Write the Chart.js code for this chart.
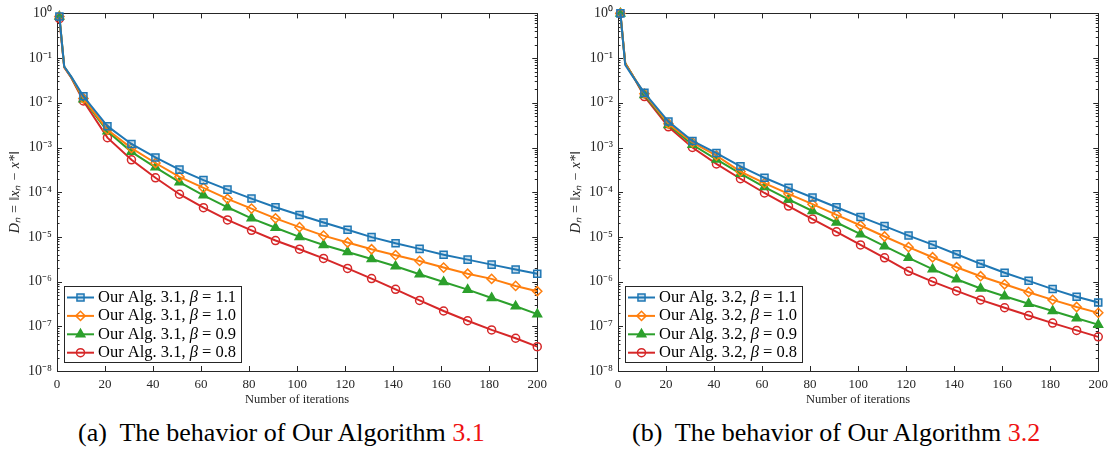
<!DOCTYPE html>
<html><head><meta charset="utf-8">
<script src="https://cdn.jsdelivr.net/npm/chart.js@4.4.1/dist/chart.umd.min.js"></script>
<style>
html,body{margin:0;padding:0;background:#fff;width:1114px;height:453px;overflow:hidden;}
.wrap{position:absolute;top:0;height:410px;}
.cap{position:absolute;top:418px;font-family:"Liberation Serif","Times New Roman",serif;font-size:26px;color:#000;white-space:nowrap;line-height:30px;}
.cap .r{color:#ee1111;}
</style></head><body>
<div class="wrap" style="left:0;width:553px"><canvas id="c1" width="553" height="410"></canvas></div>
<div class="wrap" style="left:561px;width:553px"><canvas id="c2" width="553" height="410"></canvas></div>
<div class="cap" style="left:78px">(a)&nbsp; The behavior of Our Algorithm <span class="r">3.1</span></div>
<div class="cap" style="left:632px">(b)&nbsp; The behavior of Our Algorithm <span class="r">3.2</span></div>
<script>
// ---------------- data ----------------
const iterations = [1,3,6,11,21,31,41,51,61,71,81,91,101,111,121,131,141,151,161,171,181,191,200];
const xTickValues = [0,20,40,60,80,100,120,140,160,180,200];
const yExponents = [-8,-7,-6,-5,-4,-3,-2,-1,0];
const betaValues = ['1.1','1.0','0.9','0.8'];
const xTitle = 'Number of iterations';
const yTitle = 'D\u2099 = \u2016x\u2099 \u2212 x*\u2016';

// Our Algorithm 3.1
const alg31_b11 = [0.85,0.065,0.038,1.4e-2,3.0e-3,1.2e-3,6.0e-4,3.2e-4,1.86e-4,1.14e-4,7.2e-5,4.6e-5,3.1e-5,2.1e-5,1.45e-5,9.9e-6,7.2e-6,5.4e-6,4.0e-6,3.1e-6,2.4e-6,1.86e-6,1.5e-6];
const alg31_b10 = [0.85,0.064,0.037,1.25e-2,2.5e-3,9.7e-4,4.5e-4,2.2e-4,1.25e-4,7.1e-5,4.3e-5,2.6e-5,1.65e-5,1.07e-5,7.5e-6,5.3e-6,3.9e-6,2.9e-6,2.06e-6,1.5e-6,1.15e-6,8.0e-7,6.1e-7];
const alg31_b09 = [0.85,0.064,0.037,1.2e-2,2.3e-3,8.0e-4,3.6e-4,1.68e-4,8.5e-5,4.6e-5,2.6e-5,1.6e-5,1.0e-5,6.6e-6,4.6e-6,3.2e-6,2.2e-6,1.46e-6,9.8e-7,6.6e-7,4.3e-7,2.8e-7,1.87e-7];
const alg31_b08 = [0.76,0.062,0.036,1.1e-2,1.66e-3,5.3e-4,2.1e-4,9.0e-5,4.5e-5,2.4e-5,1.4e-5,8.3e-6,5.3e-6,3.3e-6,1.97e-6,1.17e-6,6.7e-7,3.8e-7,2.2e-7,1.33e-7,8.3e-8,5.4e-8,3.5e-8];

// Our Algorithm 3.2
const alg32_b11 = [1.0,0.07,0.04,1.67e-2,3.8e-3,1.4e-3,7.5e-4,3.8e-4,2.1e-4,1.25e-4,7.6e-5,4.6e-5,2.8e-5,1.74e-5,1.07e-5,6.7e-6,4.1e-6,2.5e-6,1.58e-6,1.04e-6,6.8e-7,4.6e-7,3.4e-7];
const alg32_b10 = [1.0,0.075,0.042,1.6e-2,3.4e-3,1.3e-3,6.6e-4,2.9e-4,1.6e-4,9.2e-5,5.4e-5,3.1e-5,1.8e-5,1.02e-5,5.9e-6,3.5e-6,2.1e-6,1.32e-6,8.7e-7,5.8e-7,3.9e-7,2.7e-7,2.0e-7];
const alg32_b09 = [1.0,0.077,0.042,1.5e-2,3.2e-3,1.15e-3,5.4e-4,2.6e-4,1.3e-4,6.9e-5,3.8e-5,2.1e-5,1.15e-5,6.2e-6,3.4e-6,1.9e-6,1.13e-6,7.0e-7,4.7e-7,3.2e-7,2.2e-7,1.52e-7,1.09e-7];
const alg32_b08 = [1.0,0.078,0.042,1.38e-2,2.9e-3,1.0e-3,4.3e-4,2.0e-4,9.6e-5,4.9e-5,2.5e-5,1.3e-5,6.6e-6,3.4e-6,1.7e-6,1.0e-6,6.2e-7,3.9e-7,2.6e-7,1.74e-7,1.18e-7,8.1e-8,5.8e-8];

// ---------------- styles ----------------
const SERIF = '"Liberation Serif","Times New Roman",serif';
const AXIS = '#262626';
const seriesStyle = [
  {color:'#1f77b4', fill:'rgba(31,119,180,0.25)', style:'rect', r:5},
  {color:'#ff7f0e', fill:'rgba(255,255,255,0)', style:'rectRot', r:4.6},
  {color:'#2ca02c', fill:'#2ca02c', style:'triangle', r:5},
  {color:'#d62728', fill:'rgba(255,255,255,0)', style:'circle', r:4}
];
const SUP = {'0':'\u2070','1':'\u00b9','2':'\u00b2','3':'\u00b3','4':'\u2074','5':'\u2075','6':'\u2076','7':'\u2077','8':'\u2078','9':'\u2079','-':'\u207b'};
const sup = n => String(n).split('').map(c => SUP[c]).join('');
const isPow10 = v => { const e = Math.log10(v); return Math.abs(e - Math.round(e)) < 1e-6; };

const framePlugin = {
  id: 'frame',
  beforeDatasetsDraw(chart) {
    const {ctx, chartArea: a, scales: {x, y}} = chart;
    ctx.save();
    ctx.strokeStyle = AXIS; ctx.lineWidth = 1;
    ctx.beginPath();
    x.ticks.forEach(t => {
      const px = Math.round(x.getPixelForValue(t.value)) + 0.5;
      ctx.moveTo(px, a.bottom); ctx.lineTo(px, a.bottom - 5);
      ctx.moveTo(px, a.top); ctx.lineTo(px, a.top + 5);
    });
    y.ticks.forEach(t => {
      const len = isPow10(t.value) ? 5 : 2.5;
      const py = Math.round(y.getPixelForValue(t.value)) + 0.5;
      ctx.moveTo(a.left, py); ctx.lineTo(a.left + len, py);
      ctx.moveTo(a.right, py); ctx.lineTo(a.right - len, py);
    });
    ctx.stroke();
    ctx.strokeRect(Math.round(a.left) + 0.5, Math.round(a.top) + 0.5, Math.round(a.right - a.left), Math.round(a.bottom - a.top));
    ctx.restore();
  }
};

function drawMarker(ctx, s, x, y) {
  ctx.save();
  ctx.strokeStyle = s.color; ctx.fillStyle = s.fill; ctx.lineWidth = 1.5;
  if (Chart.helpers && Chart.helpers.drawPoint) {
    Chart.helpers.drawPoint(ctx, {pointStyle: s.style, rotation: 0, radius: s.r, borderWidth: 1.5}, x, y);
  } else {
    ctx.beginPath(); ctx.arc(x, y, s.r, 0, Math.PI * 2); ctx.fill(); ctx.stroke();
  }
  ctx.restore();
}

const legendPlugin = {
  id: 'boxLegend',
  afterDraw(chart, args, opts) {
    const {ctx, chartArea: a} = chart;
    const x0 = Math.round(a.left) + 7, y0 = Math.round(a.bottom) - 85, w = 177, h = 76;
    ctx.save();
    ctx.fillStyle = '#fff'; ctx.fillRect(x0, y0, w, h);
    ctx.strokeStyle = AXIS; ctx.lineWidth = 1; ctx.strokeRect(x0 + 0.5, y0 + 0.5, w, h);
    const F = 16.5;
    betaValues.forEach((b, i) => {
      const s = seriesStyle[i];
      const cy = y0 + 11.5 + i * 18.4;
      ctx.strokeStyle = s.color; ctx.lineWidth = 2;
      ctx.beginPath(); ctx.moveTo(x0 + 3, cy); ctx.lineTo(x0 + 30, cy); ctx.stroke();
      drawMarker(ctx, s, x0 + 16.5, cy);
      let tx = x0 + 34;
      ctx.fillStyle = '#000'; ctx.textBaseline = 'middle'; ctx.textAlign = 'left';
      ctx.font = F + 'px ' + SERIF;
      const p1 = 'Our Alg. ' + opts.alg + ', ';
      ctx.fillText(p1, tx, cy); tx += ctx.measureText(p1).width;
      ctx.font = 'italic ' + F + 'px ' + SERIF;
      ctx.fillText('\u03b2', tx, cy); tx += ctx.measureText('\u03b2').width;
      ctx.font = F + 'px ' + SERIF;
      ctx.fillText(' = ' + b, tx, cy);
    });
    ctx.restore();
  }
};

function makeChart(id, alg, seriesList, rightPad) {
  const datasets = seriesList.map((vals, i) => {
    const s = seriesStyle[i];
    return {
      label: 'Our Alg. ' + alg + ', \u03b2 = ' + betaValues[i],
      data: iterations.map((it, k) => ({x: it, y: vals[k]})),
      borderColor: s.color, backgroundColor: s.fill,
      borderWidth: 2, pointStyle: s.style,
      pointRadius: c => (c.raw && (c.raw.x % 10 === 1 || c.raw.x === 200)) ? s.r : 0,
      pointBorderWidth: 1.5, pointBorderColor: s.color, pointBackgroundColor: s.fill,
      tension: 0, clip: false
    };
  });
  return new Chart(document.getElementById(id), {
    type: 'line',
    data: {datasets},
    options: {
      responsive: false, animation: false, events: [],
      layout: {padding: {top: 12, right: rightPad, left: 0, bottom: 0}},
      plugins: {legend: {display: false}, tooltip: {enabled: false}, boxLegend: {alg}},
      scales: {
        x: {
          type: 'linear', min: 0, max: 200,
          afterBuildTicks: sc => { sc.ticks = xTickValues.map(v => ({value: v})); },
          afterFit: sc => { sc.height = 39; },
          grid: {display: false, drawTicks: false}, border: {display: false},
          ticks: {padding: 6, color: AXIS, font: {family: SERIF, size: 13}, maxRotation: 0, autoSkip: false},
          title: {display: true, text: xTitle, color: AXIS, font: {family: SERIF, size: 12.5}, padding: {top: 0, bottom: 3}}
        },
        y: {
          type: 'logarithmic', min: 1e-8, max: 1,
          afterBuildTicks: sc => {
            const t = [];
            yExponents.forEach(e => { for (let m = 1; m <= 9; m++) { if (e === 0 && m > 1) break; t.push({value: m * Math.pow(10, e)}); } });
            sc.ticks = t;
          },
          afterFit: sc => { sc.width = 57; },
          grid: {display: false, drawTicks: false}, border: {display: false},
          ticks: {padding: 5, color: AXIS, autoSkip: false, font: {family: SERIF, size: 14},
            callback: v => isPow10(v) ? '10' + sup(Math.round(Math.log10(v))) : ''},
          title: {display: true, text: yTitle, color: AXIS, font: {family: SERIF, size: 14, style: 'italic'}, padding: {top: 7, bottom: 0}}
        }
      }
    },
    plugins: [framePlugin, legendPlugin]
  });
}

makeChart('c1', '3.1', [alg31_b11, alg31_b10, alg31_b09, alg31_b08], 11);
makeChart('c2', '3.2', [alg32_b11, alg32_b10, alg32_b09, alg32_b08], 12);
</script>
</body></html>
